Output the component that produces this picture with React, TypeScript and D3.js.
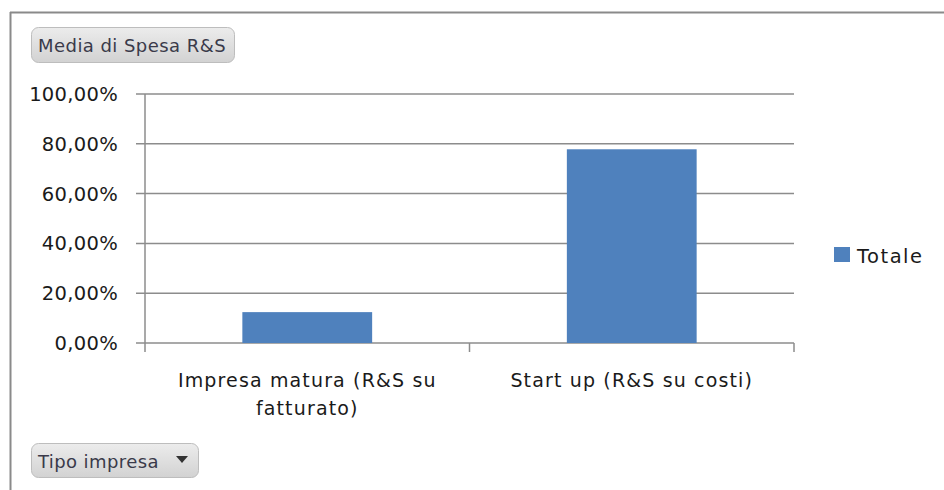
import React from "react";
import * as d3 from "d3";

const categories: string[][] = [
  ["Impresa matura (R&S su", "fatturato)"],
  ["Start up (R&S su costi)"],
];
const values: number[] = [0.124, 0.778];
const yTicks: number[] = [0, 0.2, 0.4, 0.6, 0.8, 1.0];
const seriesName = "Totale";
const fieldButton = "Media di Spesa R&S";
const axisButton = "Tipo impresa";

const W = 944;
const H = 490;
const FONT = "'DejaVu Sans', Verdana, sans-serif";

export default function App() {
  const left = 145, right = 794, top = 94, bottom = 343;
  const x = d3.scaleBand<number>().domain(categories.map((_, i) => i)).range([left, right]).paddingInner(0).paddingOuter(0);
  const y = d3.scaleLinear().domain([0, 1]).range([bottom, top]);
  const barW = x.bandwidth() * 0.4;
  const fmt = (v: number) => (v * 100).toFixed(2).replace(".", ",") + "%";

  return (
    <svg width={W} height={H} style={{ position: "absolute", left: 0, top: 0, fontFamily: FONT }}>
      <defs>
        <linearGradient id="btn" x1="0" y1="0" x2="0" y2="1">
          <stop offset="0" stopColor="#ececec" />
          <stop offset="1" stopColor="#d2d2d2" />
        </linearGradient>
      </defs>
      <rect x={0} y={0} width={W} height={H} fill="#fff" />
      <line x1={10.5} y1={12} x2={10.5} y2={H} stroke="#8a8a8a" strokeWidth={2} />
      <line x1={10} y1={12.5} x2={W} y2={12.5} stroke="#8a8a8a" strokeWidth={2} />

      {/* gridlines */}
      {yTicks.map((t) => (
        <g key={t}>
          <line x1={left - 9} x2={right} y1={y(t)} y2={y(t)} stroke="#8c8c8c" strokeWidth={1.5} />
          <text x={118} y={y(t) + 7} textAnchor="end" fontSize={19.5} letterSpacing={0.3} fill="#1a1a1a">{fmt(t)}</text>
        </g>
      ))}
      {/* y axis */}
      <line x1={left} x2={left} y1={top} y2={bottom + 9} stroke="#8c8c8c" strokeWidth={1.5} />
      {/* category ticks */}
      {categories.map((_, i) => (
        <line key={i} x1={(x(i) as number) + x.bandwidth()} x2={(x(i) as number) + x.bandwidth()} y1={bottom} y2={bottom + 9} stroke="#8c8c8c" strokeWidth={1.5} />
      ))}

      {/* bars */}
      {values.map((v, i) => {
        const cx = (x(i) as number) + x.bandwidth() / 2;
        return (
          <rect key={i} x={cx - barW / 2} y={y(v)} width={barW} height={bottom - y(v)} fill="#4f81bd" />
        );
      })}

      {/* category labels */}
      {categories.map((lines, i) => {
        const cx = (x(i) as number) + x.bandwidth() / 2;
        return (
          <text key={i} textAnchor="middle" fontSize={19} fill="#1a1a1a" letterSpacing={1.15}>
            {lines.map((l, j) => (
              <tspan key={j} x={cx} y={387 + j * 28}>{l}</tspan>
            ))}
          </text>
        );
      })}

      {/* legend */}
      <rect x={834} y={247} width={16} height={15} fill="#4f81bd" />
      <text x={857} y={263} fontSize={19.5} letterSpacing={1.5} fill="#1a1a1a">{seriesName}</text>

      {/* field buttons */}
      <rect x={31.5} y={27.5} width={203} height={35} rx={7} fill="url(#btn)" stroke="#bdbdbd" />
      <text x={38} y={52} fontSize={18} letterSpacing={0.45} fill="#3a3a4a">{fieldButton}</text>

      <rect x={31.5} y={443.5} width={167} height={34} rx={7} fill="url(#btn)" stroke="#bdbdbd" />
      <text x={38} y={468} fontSize={18} letterSpacing={0.4} fill="#3a3a4a">{axisButton}</text>
      <path d="M176,456 L188,456 L182,463 Z" fill="#333" />
    </svg>
  );
}
